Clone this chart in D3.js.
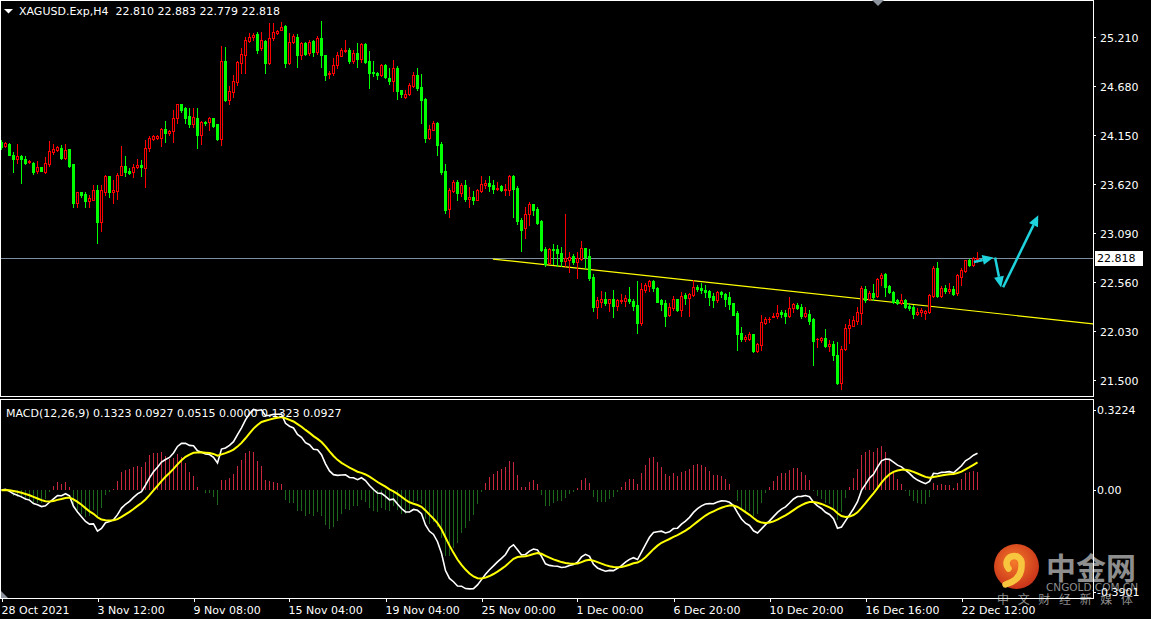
<!DOCTYPE html>
<html>
<head>
<meta charset="utf-8">
<script src="https://cdn.jsdelivr.net/npm/d3@7"></script>
<style>
  html, body { margin: 0; padding: 0; background: #000; }
  svg { display: block; }
  text { font-family: "DejaVu Sans", sans-serif; font-size: 11px; fill: #fff; }
</style>
</head>
<body>
<div id="chart"></div>
<script>
// header texts
const symbolTitle = 'XAGUSD.Exp,H4  22.810 22.883 22.779 22.818';
const macdTitle = 'MACD(12,26,9) 0.1323 0.0927 0.0515 0.0000 0.1323 0.0927';

// H4 bars, 28 Oct 2021 12:00 -> 23 Dec 2021 08:00
const openP = [
  24.08,24.03,24.05,23.94,23.89,23.92,23.89,23.86,23.85,23.76,23.81,23.75,
  23.84,23.97,23.99,24.01,23.90,24.00,23.84,23.42,23.54,23.51,23.44,23.45,
  23.56,23.21,23.54,23.71,23.54,23.55,23.72,23.82,23.76,23.75,23.81,23.83,
  23.79,24.01,24.11,24.12,24.12,24.22,24.17,24.19,24.34,24.49,24.44,24.36,
  24.27,24.34,24.15,24.29,24.29,24.33,24.27,24.11,24.95,24.53,24.62,24.72,
  24.93,25.02,25.17,25.21,25.24,25.09,25.17,24.93,25.20,25.25,25.29,25.33,
  24.93,25.16,25.21,25.02,25.14,25.04,25.17,25.05,25.20,25.02,24.81,24.82,
  24.91,25.01,25.06,25.07,24.95,25.04,24.97,25.13,24.95,24.83,24.82,24.80,
  24.91,24.77,24.73,24.88,24.64,24.56,24.59,24.68,24.80,24.67,24.54,24.12,
  24.21,24.28,24.05,23.76,23.35,23.55,23.64,23.52,23.61,23.46,23.48,23.45,
  23.55,23.61,23.63,23.61,23.57,23.60,23.56,23.56,23.71,23.58,23.23,23.15,
  23.30,23.40,23.35,23.22,22.92,22.77,22.92,22.92,22.88,22.79,22.80,22.84,
  22.78,22.81,22.93,22.84,22.62,22.29,22.35,22.38,22.33,22.38,22.30,22.36,
  22.36,22.38,22.36,22.31,22.12,22.48,22.52,22.57,22.50,22.37,22.33,22.21,
  22.28,22.38,22.26,22.42,22.39,22.42,22.51,22.50,22.48,22.46,22.41,22.37,
  22.45,22.43,22.40,22.33,22.23,22.01,21.95,21.95,22.00,21.82,21.88,22.12,
  22.16,22.18,22.19,22.24,22.23,22.19,22.28,22.31,22.29,22.20,22.22,22.16,
  21.95,21.94,21.96,21.87,21.89,21.77,21.47,21.84,22.06,22.09,22.14,22.23,
  22.49,22.38,22.44,22.41,22.61,22.65,22.52,22.45,22.37,22.34,22.37,22.30,
  22.29,22.22,22.24,22.23,22.24,22.41,22.71,22.41,22.50,22.47,22.49,22.44,
  22.62,22.68,22.80,22.75,22.810
];
const highP = [
  24.10,24.07,24.06,23.97,24.05,23.93,23.92,23.88,23.86,23.87,23.81,23.91,
  24.09,24.05,24.03,24.04,24.05,24.00,23.84,23.54,23.54,23.54,23.50,23.61,
  23.61,23.61,23.72,23.71,23.66,23.74,24.03,23.92,23.79,23.84,23.89,23.88,
  24.10,24.14,24.15,24.15,24.23,24.30,24.21,24.42,24.49,24.49,24.45,24.44,
  24.44,24.44,24.30,24.30,24.35,24.34,24.27,25.11,25.10,24.68,24.80,24.95,
  25.09,25.21,25.25,25.25,25.26,25.26,25.18,25.36,25.36,25.29,25.37,25.34,
  25.25,25.24,25.24,25.16,25.16,25.18,25.18,25.22,25.38,25.02,24.84,24.98,
  25.05,25.09,25.18,25.09,25.07,25.14,25.15,25.14,25.06,24.95,24.83,24.92,
  24.92,24.87,24.96,24.90,24.64,24.64,24.71,24.83,24.87,24.81,24.55,24.26,
  24.30,24.29,24.08,23.84,23.58,23.67,23.67,23.63,23.67,23.59,23.55,23.57,
  23.71,23.66,23.71,23.66,23.64,23.61,23.62,23.72,23.72,23.60,23.25,23.37,
  23.43,23.41,23.37,23.23,22.94,22.93,22.97,22.96,22.94,23.30,22.89,22.86,
  22.89,23.01,22.93,22.92,22.65,22.40,22.47,22.45,22.38,22.48,22.38,22.43,
  22.42,22.51,22.38,22.57,22.55,22.55,22.58,22.58,22.51,22.38,22.37,22.33,
  22.41,22.38,22.45,22.44,22.44,22.58,22.53,22.55,22.53,22.48,22.44,22.47,
  22.47,22.44,22.45,22.34,22.25,22.08,21.99,22.02,22.00,21.90,22.21,22.18,
  22.18,22.23,22.31,22.26,22.26,22.40,22.34,22.34,22.32,22.29,22.26,22.17,
  21.96,21.97,22.05,21.94,21.93,21.91,21.87,22.11,22.16,22.20,22.29,22.52,
  22.52,22.47,22.54,22.61,22.66,22.66,22.53,22.47,22.38,22.43,22.38,22.34,
  22.31,22.28,22.28,22.26,22.43,22.74,22.78,22.52,22.53,22.55,22.52,22.65,
  22.71,22.80,22.81,22.83,22.883
];
const lowP = [
  24.00,24.02,23.93,23.75,23.85,23.63,23.84,23.85,23.73,23.74,23.76,23.74,
  23.82,23.95,23.98,23.89,23.89,23.81,23.37,23.37,23.48,23.37,23.37,23.45,
  22.98,23.11,23.50,23.48,23.42,23.46,23.72,23.71,23.73,23.70,23.79,23.71,
  23.59,23.98,24.10,24.11,24.03,24.08,24.15,24.08,24.28,24.40,24.28,24.24,
  24.24,24.01,24.05,24.26,24.21,24.24,24.10,24.04,24.52,24.49,24.56,24.69,
  24.82,24.82,25.16,25.18,25.04,25.07,24.82,24.92,25.18,25.24,25.29,24.89,
  24.92,25.14,24.89,24.97,25.02,25.02,25.00,25.03,24.89,24.74,24.77,24.80,
  24.87,25.00,25.05,24.93,24.93,24.89,24.94,24.93,24.66,24.79,24.76,24.79,
  24.77,24.70,24.63,24.54,24.56,24.55,24.58,24.67,24.64,24.28,24.08,24.11,
  24.21,23.94,23.73,23.31,23.26,23.54,23.45,23.49,23.44,23.37,23.40,23.45,
  23.54,23.58,23.55,23.52,23.56,23.55,23.50,23.50,23.27,23.19,22.90,23.04,
  23.18,23.29,23.19,22.90,22.73,22.76,22.76,22.74,22.74,22.74,22.67,22.76,
  22.61,22.80,22.71,22.58,22.25,22.17,22.29,22.31,22.25,22.18,22.26,22.34,
  22.30,22.33,22.26,22.01,22.10,22.45,22.47,22.47,22.35,22.26,22.09,22.20,
  22.26,22.25,22.20,22.32,22.20,22.41,22.47,22.44,22.40,22.31,22.29,22.35,
  22.40,22.30,22.27,22.21,21.83,21.93,21.92,21.94,21.81,21.81,21.83,22.11,
  22.13,22.18,22.17,22.18,22.12,22.18,22.24,22.27,22.17,22.18,22.11,21.66,
  21.86,21.91,21.86,21.82,21.72,21.46,21.41,21.83,21.90,22.09,22.11,22.11,
  22.35,22.37,22.37,22.40,22.53,22.41,22.44,22.34,22.32,22.32,22.28,22.26,
  22.17,22.21,22.20,22.16,22.23,22.40,22.40,22.40,22.44,22.44,22.42,22.42,
  22.53,22.67,22.74,22.73,22.779
];
const closeP = [
  24.02,24.06,23.94,23.89,23.92,23.89,23.85,23.87,23.75,23.81,23.76,23.85,
  23.98,24.00,24.02,23.90,23.99,23.82,23.42,23.53,23.50,23.44,23.47,23.56,
  23.21,23.56,23.71,23.54,23.56,23.72,23.82,23.75,23.74,23.81,23.83,23.80,
  24.01,24.12,24.14,24.14,24.22,24.17,24.19,24.34,24.49,24.42,24.34,24.27,
  24.35,24.15,24.29,24.28,24.34,24.25,24.11,24.95,24.53,24.63,24.73,24.94,
  25.03,25.18,25.21,25.23,25.07,25.18,24.93,25.20,25.26,25.27,25.32,24.93,
  25.16,25.22,25.02,25.15,25.03,25.16,25.05,25.20,25.02,24.80,24.82,24.91,
  25.02,25.07,25.07,24.95,25.04,24.97,25.13,24.94,24.82,24.82,24.80,24.91,
  24.78,24.73,24.88,24.63,24.59,24.59,24.69,24.80,24.66,24.53,24.12,24.22,
  24.28,24.04,23.75,23.34,23.56,23.64,23.52,23.61,23.46,23.48,23.45,23.56,
  23.62,23.63,23.60,23.57,23.58,23.56,23.57,23.71,23.57,23.22,23.12,23.30,
  23.40,23.34,23.20,22.91,22.76,22.92,22.91,22.88,22.79,22.82,22.83,22.78,
  22.82,22.93,22.83,22.61,22.29,22.37,22.38,22.33,22.38,22.30,22.37,22.37,
  22.39,22.36,22.30,22.12,22.49,22.53,22.57,22.50,22.35,22.32,22.20,22.29,
  22.38,22.26,22.41,22.39,22.43,22.51,22.49,22.48,22.45,22.40,22.37,22.45,
  22.43,22.38,22.32,22.21,22.00,21.95,21.97,22.00,21.82,21.89,22.13,22.16,
  22.16,22.20,22.23,22.22,22.19,22.28,22.32,22.28,22.20,22.23,22.14,21.93,
  21.95,21.96,21.87,21.89,21.77,21.47,21.84,22.06,22.10,22.15,22.24,22.50,
  22.37,22.44,22.40,22.60,22.64,22.51,22.45,22.35,22.33,22.37,22.29,22.28,
  22.22,22.24,22.26,22.25,22.42,22.71,22.41,22.50,22.47,22.49,22.43,22.64,
  22.69,22.80,22.75,22.82,22.818
];

// time axis: one label every 24 bars
const timeLabels = ['28 Oct 2021','3 Nov 12:00','9 Nov 08:00','15 Nov 04:00','19 Nov 04:00',
  '25 Nov 00:00','1 Dec 00:00','6 Dec 20:00','10 Dec 20:00','16 Dec 16:00','22 Dec 12:00'];
const timeLabelBars = [0,24,48,72,96,120,144,168,192,216,240];

const priceTicks = [25.21,24.68,24.15,23.62,23.09,22.56,22.03,21.50];
const lastPrice = 22.818;
const macdMax = 0.3224;
const macdMin = -0.3901;

// drawn objects, in (bar index, price)
const trendLine = [[122.85, 22.81], [272.9, 22.11]];
const arrowLines = [
  [[243.1, 22.779], [248.0, 22.827]],
  [[248.4, 22.827], [249.9, 22.502]],
  [[250.4, 22.505], [259.2, 23.284]]
];

// ---------------------------------------------------------------
const W = 1151, H = 619;
const axisX = 1093;
const mainTop = 0, mainBottom = 396;
const subTop = 399, subBottom = 598;

const svg = d3.select('#chart').append('svg')
  .attr('width', W).attr('height', H)
  .style('background', '#000');

const x = d3.scaleLinear().domain([0, 272.75]).range([1.5, 1092.5]);
const y = d3.scaleLinear().domain([21.5, 25.21]).range([380.3, 37]);
const ym = d3.scaleLinear().domain([macdMin, macdMax]).range([598, 401]);

svg.append('clipPath').attr('id', 'clipMain')
  .append('rect').attr('x', 1).attr('y', mainTop + 1).attr('width', axisX - 1).attr('height', mainBottom - 1);
svg.append('clipPath').attr('id', 'clipSub')
  .append('rect').attr('x', 1).attr('y', subTop + 1).attr('width', axisX - 1).attr('height', subBottom - subTop - 1);

const bars = closeP.map((c, i) => ({ i, o: openP[i], h: highP[i], l: lowP[i], c }));

// ---------- main panel ----------
const main = svg.append('g').attr('clip-path', 'url(#clipMain)');

// bid line
main.append('line')
  .attr('x1', 0).attr('x2', axisX)
  .attr('y1', Math.round(y(lastPrice)) + 0.5).attr('y2', Math.round(y(lastPrice)) + 0.5)
  .attr('stroke', '#7f8fa0').attr('stroke-width', 1);

// trend line
main.append('line')
  .attr('x1', x(trendLine[0][0])).attr('y1', y(trendLine[0][1]))
  .attr('x2', x(trendLine[1][0])).attr('y2', y(trendLine[1][1]))
  .attr('stroke', '#ffff00').attr('stroke-width', 1.2);

const candles = main.append('g').attr('shape-rendering', 'crispEdges');

candles.selectAll('line.wick')
  .data(bars).enter().append('line')
  .attr('class', 'wick')
  .attr('x1', d => x(d.i)).attr('x2', d => x(d.i))
  .attr('y1', d => Math.round(y(d.h))).attr('y2', d => Math.round(y(d.l)) + 1)
  .attr('stroke', d => d.c >= d.o ? '#ff0000' : '#00ff00');

candles.selectAll('rect.body')
  .data(bars).enter().append('rect')
  .attr('class', 'body')
  .each(function (d) {
    const top = Math.round(y(Math.max(d.o, d.c)));
    const bot = Math.round(y(Math.min(d.o, d.c)));
    const left = Math.round(x(d.i) - 1.5);
    const r = d3.select(this);
    if (d.c > d.o) {
      // bull: hollow red
      r.attr('x', left + 0.5).attr('y', top + 0.5)
        .attr('width', 2).attr('height', Math.max(0, bot - top))
        .attr('fill', '#000').attr('stroke', '#ff0000').attr('stroke-width', 1);
    } else {
      r.attr('x', left).attr('y', top)
        .attr('width', 3).attr('height', Math.max(1, bot - top + 1))
        .attr('fill', d.c < d.o ? '#00ff00' : '#ff0000');
    }
  });

// hand drawn arrows
const arrowColor = '#1fd3dc';
const arrowG = svg.append('g').attr('clip-path', 'url(#clipMain)');
arrowLines.forEach(seg => {
  const x1 = x(seg[0][0]), y1 = y(seg[0][1]);
  const x2 = x(seg[1][0]), y2 = y(seg[1][1]);
  const ang = Math.atan2(y2 - y1, x2 - x1);
  const len = 11, half = 5;
  const bx = x2 - len * Math.cos(ang), by = y2 - len * Math.sin(ang);
  arrowG.append('line')
    .attr('x1', x1).attr('y1', y1).attr('x2', bx).attr('y2', by)
    .attr('stroke', arrowColor).attr('stroke-width', 2.5);
  arrowG.append('polygon')
    .attr('points', [
      [x2, y2],
      [bx + half * Math.sin(ang), by - half * Math.cos(ang)],
      [bx - half * Math.sin(ang), by + half * Math.cos(ang)]
    ].map(p => p.join(',')).join(' '))
    .attr('fill', arrowColor);
});

// ---------- MACD panel ----------
function ema(arr, n) {
  const k = 2 / (n + 1);
  const out = [];
  arr.forEach((v, i) => out.push(i === 0 ? v : out[i - 1] + k * (v - out[i - 1])));
  return out;
}
const ema12 = ema(closeP, 12);
const ema26 = ema(closeP, 26);
const macd = ema12.map((v, i) => v - ema26[i]);
const signal = ema(macd, 9);
const hist = macd.map((v, i) => 2 * (v - signal[i]));

const sub = svg.append('g').attr('clip-path', 'url(#clipSub)');

sub.append('g').attr('shape-rendering', 'crispEdges')
  .selectAll('line')
  .data(hist).enter().append('line')
  .attr('x1', (d, i) => x(i)).attr('x2', (d, i) => x(i))
  .attr('y1', Math.round(ym(0)))
  .attr('y2', d => Math.round(ym(d)))
  .attr('stroke', d => d >= 0 ? '#c8283e' : '#1b681b');

const lineGen = d3.line().x((d, i) => x(i)).y(d => ym(d));
sub.append('path').datum(macd)
  .attr('d', lineGen).attr('fill', 'none')
  .attr('stroke', '#ffffff').attr('stroke-width', 1.6);
sub.append('path').datum(signal)
  .attr('d', lineGen).attr('fill', 'none')
  .attr('stroke', '#ffff00').attr('stroke-width', 2);

// ---------- watermark ----------
const wm = svg.append('g');
const defs = svg.append('defs');
const grad = defs.append('radialGradient').attr('id', 'logoGrad')
  .attr('cx', '45%').attr('cy', '40%').attr('r', '60%');
grad.append('stop').attr('offset', '0%').attr('stop-color', '#f57a2a');
grad.append('stop').attr('offset', '100%').attr('stop-color', '#c9341a');
const lcx = 1016.5, lcy = 566.5;
wm.append('circle').attr('cx', lcx).attr('cy', lcy).attr('r', 22.5).attr('fill', 'url(#logoGrad)');
wm.append('path')
  .attr('d', `M${lcx - 8},${lcy + 2} A7.5 7.5 0 1 1 ${lcx + 5},${lcy - 2} Q${lcx + 6},${lcy + 13} ${lcx - 11},${lcy + 18}`)
  .attr('fill', 'none').attr('stroke', '#f7c53e').attr('stroke-width', 6.5).attr('stroke-linecap', 'round');
wm.append('text').attr('x', 1046).attr('y', 579)
  .style('font-family', '"Noto Sans CJK SC", sans-serif').style('font-size', '30px')
  .style('font-weight', 700).style('fill', '#8e8e8e')
  .text('中金网');
wm.append('text').attr('x', 1046).attr('y', 591)
  .attr('textLength', 92).attr('lengthAdjust', 'spacingAndGlyphs')
  .style('font-size', '10px').style('fill', '#8e8e8e')
  .text('CNGOLD.COM.CN');
wm.append('text').attr('x', 997).attr('y', 604)
  .attr('textLength', 136).attr('lengthAdjust', 'spacing')
  .style('font-family', '"Noto Sans CJK SC", sans-serif').style('font-size', '12px')
  .style('fill', '#8e8e8e')
  .text('中文财经新媒体');

// ---------- frames ----------
const frame = svg.append('g').attr('shape-rendering', 'crispEdges')
  .attr('stroke', '#ffffff').attr('fill', 'none');
frame.append('rect').attr('x', 0.5).attr('y', mainTop + 0.5).attr('width', axisX - 0.5).attr('height', mainBottom - mainTop);
frame.append('rect').attr('x', 0.5).attr('y', subTop + 0.5).attr('width', axisX - 0.5).attr('height', subBottom - subTop);

// MT4 markers
svg.append('polygon').attr('points', '872,0 884,0 878,6').attr('fill', '#8c939c');
svg.append('polygon').attr('points', '1,591 1,598 8,598').attr('fill', '#8c939c');

// ---------- price axis ----------
const priceAxis = svg.append('g');
priceTicks.forEach(p => {
  const py = Math.round(y(p)) + 0.5;
  priceAxis.append('line').attr('x1', axisX).attr('x2', axisX + 3)
    .attr('y1', py).attr('y2', py).attr('stroke', '#fff').attr('shape-rendering', 'crispEdges');
  priceAxis.append('text').attr('x', 1100).attr('y', py + 4).text(p.toFixed(3));
});
const ly = Math.round(y(lastPrice));
priceAxis.append('rect').attr('x', 1095).attr('y', ly - 7).attr('width', 48).attr('height', 15).attr('fill', '#fff');
priceAxis.append('text').attr('x', 1097).attr('y', ly + 4).style('fill', '#000').text(lastPrice.toFixed(3));

// MACD axis
const macdAxis = [
  { v: macdMax, py: 410 },
  { v: 0, py: Math.round(ym(0)) },
  { v: macdMin, py: 592 }
];
macdAxis.forEach(t => {
  svg.append('line').attr('x1', axisX).attr('x2', axisX + 3)
    .attr('y1', t.py + 0.5).attr('y2', t.py + 0.5).attr('stroke', '#fff').attr('shape-rendering', 'crispEdges');
  svg.append('text').attr('x', 1097).attr('y', t.py + 4)
    .text(t.v === 0 ? '0.00' : t.v.toFixed(4));
});

// ---------- time axis ----------
const timeAxis = svg.append('g');
timeLabelBars.forEach((b, k) => {
  const tx = Math.round(x(b)) + 0.5;
  timeAxis.append('line').attr('x1', tx).attr('x2', tx)
    .attr('y1', subBottom + 1).attr('y2', subBottom + 4)
    .attr('stroke', '#fff').attr('shape-rendering', 'crispEdges');
  timeAxis.append('text').attr('x', Math.max(1, tx - 1)).attr('y', 614).text(timeLabels[k]);
});

// ---------- titles ----------
svg.append('polygon').attr('points', '4,9 13,9 8.5,13.5').attr('fill', '#fff');
svg.append('text').attr('x', 19).attr('y', 15).text(symbolTitle).style('white-space', 'pre');
svg.append('text').attr('x', 6).attr('y', 417).text(macdTitle);
</script>
</body>
</html>
